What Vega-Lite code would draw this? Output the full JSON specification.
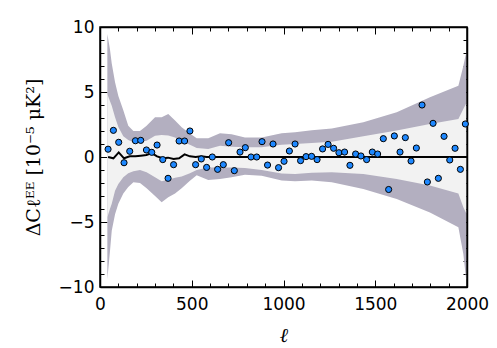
{
  "$schema": "https://vega.github.io/schema/vega-lite/v6.json",
  "autosize": {"type": "none"},
  "padding": {"left": 100, "top": 27, "right": 30, "bottom": 61},
  "width": 367,
  "height": 260,
  "background": "white",
  "config": {
    "view": {"stroke": "black", "strokeWidth": 1.5},
    "axis": {"zindex": 1}
  },
  "datasets": {
    "band": [
      {"l": 40, "lo2": -9.4, "lo1": -4.64, "hi1": 4.85, "hi2": 9.46},
      {"l": 54, "lo2": -7.3, "lo1": -4.0, "hi1": 4.3, "hi2": 8.3},
      {"l": 64, "lo2": -5.67, "lo1": -3.6, "hi1": 3.95, "hi2": 7.2},
      {"l": 82, "lo2": -4.4, "lo1": -2.6, "hi1": 3.05, "hi2": 5.75},
      {"l": 100, "lo2": -3.6, "lo1": -2.08, "hi1": 2.3, "hi2": 4.7},
      {"l": 127, "lo2": -2.8, "lo1": -1.56, "hi1": 1.6, "hi2": 3.6},
      {"l": 154, "lo2": -2.3, "lo1": -1.25, "hi1": 1.3, "hi2": 2.4},
      {"l": 182, "lo2": -1.95, "lo1": -1.1, "hi1": 1.13, "hi2": 2.0},
      {"l": 218, "lo2": -2.0, "lo1": -1.0, "hi1": 1.13, "hi2": 2.0},
      {"l": 254, "lo2": -2.4, "lo1": -1.18, "hi1": 1.25, "hi2": 2.4},
      {"l": 300, "lo2": -3.0, "lo1": -1.56, "hi1": 1.64, "hi2": 3.05},
      {"l": 336, "lo2": -3.49, "lo1": -1.87, "hi1": 1.7, "hi2": 3.05},
      {"l": 372, "lo2": -3.1, "lo1": -1.75, "hi1": 1.65, "hi2": 3.3},
      {"l": 409, "lo2": -2.8, "lo1": -1.6, "hi1": 1.5, "hi2": 2.8},
      {"l": 445, "lo2": -2.4, "lo1": -1.5, "hi1": 1.2, "hi2": 2.28},
      {"l": 490, "lo2": -1.82, "lo1": -1.25, "hi1": 0.95, "hi2": 1.8},
      {"l": 527, "lo2": -1.4, "lo1": -1.0, "hi1": 0.7, "hi2": 1.45},
      {"l": 590, "lo2": -1.77, "lo1": -0.8, "hi1": 0.62, "hi2": 1.44},
      {"l": 654, "lo2": -1.7, "lo1": -0.8, "hi1": 0.87, "hi2": 1.82},
      {"l": 717, "lo2": -1.56, "lo1": -0.8, "hi1": 0.78, "hi2": 1.75},
      {"l": 790, "lo2": -1.36, "lo1": -0.85, "hi1": 0.75, "hi2": 1.5},
      {"l": 881, "lo2": -1.44, "lo1": -1.0, "hi1": 0.75, "hi2": 1.5},
      {"l": 990, "lo2": -1.8, "lo1": -1.26, "hi1": 0.95, "hi2": 1.82},
      {"l": 1063, "lo2": -1.87, "lo1": -1.3, "hi1": 1.0, "hi2": 1.9},
      {"l": 1154, "lo2": -1.8, "lo1": -1.22, "hi1": 1.08, "hi2": 2.05},
      {"l": 1263, "lo2": -1.95, "lo1": -1.18, "hi1": 1.18, "hi2": 2.2},
      {"l": 1435, "lo2": -2.46, "lo1": -1.3, "hi1": 1.59, "hi2": 2.67},
      {"l": 1617, "lo2": -3.23, "lo1": -1.7, "hi1": 2.03, "hi2": 3.44},
      {"l": 1798, "lo2": -4.26, "lo1": -2.2, "hi1": 2.54, "hi2": 4.59},
      {"l": 1953, "lo2": -5.41, "lo1": -2.8, "hi1": 2.92, "hi2": 5.49},
      {"l": 1980, "lo2": -7.46, "lo1": -3.87, "hi1": 3.7, "hi2": 7.0},
      {"l": 1995, "lo2": -9.4, "lo1": -4.3, "hi1": 4.1, "hi2": 8.0}
    ],
    "line": [
      {"l": 44, "m": 0.0}, {"l": 73, "m": -0.1}, {"l": 102, "m": 0.35}, {"l": 131, "m": -0.1},
      {"l": 162, "m": 0.05}, {"l": 193, "m": 0.05}, {"l": 222, "m": 0.1}, {"l": 253, "m": 0.15},
      {"l": 282, "m": 0.3}, {"l": 311, "m": 0.05}, {"l": 342, "m": -0.1}, {"l": 371, "m": -0.05},
      {"l": 401, "m": -0.15}, {"l": 431, "m": -0.1}, {"l": 461, "m": 0.2}, {"l": 490, "m": 0.05},
      {"l": 521, "m": 0.0}, {"l": 552, "m": 0.05}, {"l": 581, "m": 0.0}, {"l": 1000, "m": 0.0},
      {"l": 1500, "m": 0.0}, {"l": 2000, "m": 0.0}
    ],
    "pts": [
      {"l": 44, "d": 0.6}, {"l": 73, "d": 2.05}, {"l": 102, "d": 1.13}, {"l": 131, "d": -0.44},
      {"l": 162, "d": 0.44}, {"l": 193, "d": 1.25}, {"l": 222, "d": 1.28}, {"l": 253, "d": 0.54},
      {"l": 282, "d": 0.36}, {"l": 311, "d": 0.92}, {"l": 342, "d": -0.2}, {"l": 371, "d": -1.64},
      {"l": 401, "d": -0.59}, {"l": 431, "d": 1.23}, {"l": 461, "d": 1.23}, {"l": 490, "d": 2.0},
      {"l": 521, "d": -0.59}, {"l": 552, "d": -0.15}, {"l": 581, "d": -0.8}, {"l": 612, "d": 0.0},
      {"l": 641, "d": -0.95}, {"l": 672, "d": -0.59}, {"l": 701, "d": 1.1}, {"l": 732, "d": -1.05},
      {"l": 763, "d": 0.38}, {"l": 792, "d": 0.72}, {"l": 823, "d": 0.0}, {"l": 854, "d": 0.0},
      {"l": 883, "d": 1.18}, {"l": 913, "d": -0.62}, {"l": 943, "d": 1.0}, {"l": 973, "d": -0.82},
      {"l": 1003, "d": -0.33}, {"l": 1032, "d": 0.46}, {"l": 1063, "d": 1.0}, {"l": 1093, "d": -0.28},
      {"l": 1123, "d": 0.03}, {"l": 1153, "d": 0.05}, {"l": 1183, "d": -0.2}, {"l": 1213, "d": 0.62},
      {"l": 1243, "d": 0.97}, {"l": 1273, "d": 0.67}, {"l": 1302, "d": 0.33}, {"l": 1333, "d": 0.38},
      {"l": 1362, "d": -0.64}, {"l": 1393, "d": 0.23}, {"l": 1422, "d": 0.08}, {"l": 1453, "d": -0.2},
      {"l": 1484, "d": 0.38}, {"l": 1513, "d": 0.23}, {"l": 1544, "d": 1.41}, {"l": 1573, "d": -2.5},
      {"l": 1604, "d": 1.62}, {"l": 1635, "d": 0.38}, {"l": 1664, "d": 1.49}, {"l": 1695, "d": -0.31},
      {"l": 1724, "d": 0.69}, {"l": 1755, "d": 4.0}, {"l": 1784, "d": -1.92}, {"l": 1815, "d": 2.59},
      {"l": 1844, "d": -1.64}, {"l": 1875, "d": 1.59}, {"l": 1906, "d": -0.23}, {"l": 1935, "d": 0.67},
      {"l": 1964, "d": -0.95}, {"l": 1991, "d": 2.54}
    ]
  },
  "layer": [
    {
      "data": {"name": "band"},
      "mark": {"type": "area", "color": "#b3afc0", "opacity": 1},
      "encoding": {
        "x": {
          "field": "l", "type": "quantitative",
          "scale": {"domain": [0, 2000], "nice": false},
          "axis": {
            "orient": "bottom", "values": [0,100,200,300,400,500,600,700,800,900,1000,1100,1200,1300,1400,1500,1600,1700,1800,1900,2000],
            "format": "d",
            "labelExpr": "datum.value % 500 === 0 ? datum.label : ''",
            "tickSize": {"condition": {"test": "datum.value % 500 === 0", "value": -7}, "value": -4},
            "tickColor": "black", "tickWidth": 1, "domainColor": "black", "domainWidth": 1.5,
            "grid": false, "labelFont": "DejaVu Sans", "labelFontSize": 17, "labelColor": "black",
            "labelPadding": 16, "labelFlush": false, "labelOverlap": false,
            "title": "ℓ", "titleFont": "DejaVu Serif", "titleFontStyle": "italic", "titleFontWeight": "normal",
            "titleFontSize": 20, "titleColor": "black", "titlePadding": 10
          }
        },
        "y": {
          "field": "lo2", "type": "quantitative",
          "scale": {"domain": [-10, 10], "nice": false},
          "axis": {
            "orient": "left", "values": [-10,-9,-8,-7,-6,-5,-4,-3,-2,-1,0,1,2,3,4,5,6,7,8,9,10],
            "format": "d",
            "labelExpr": "datum.value % 5 === 0 ? datum.label : ''",
            "tickSize": {"condition": {"test": "datum.value % 5 === 0", "value": -7}, "value": -4},
            "tickColor": "black", "tickWidth": 1, "domainColor": "black", "domainWidth": 1.5,
            "grid": false, "labelFont": "DejaVu Sans", "labelFontSize": 17, "labelColor": "black",
            "labelPadding": 13, "labelFlush": false, "labelOverlap": false,
            "title": "ΔCℓᴱᴱ [10⁻⁵  μK²]", "titleFont": "DejaVu Serif", "titleFontWeight": "normal",
            "titleFontSize": 19, "titleColor": "black", "titleX": -67, "titleY": 130,
            "titleAlign": "center", "titleBaseline": "middle", "titleAngle": -90
          }
        },
        "y2": {"field": "hi2"}
      }
    },
    {
      "data": {"name": "band"},
      "mark": {"type": "area", "color": "#f2f2f2", "opacity": 1},
      "encoding": {
        "x": {
          "field": "l", "type": "quantitative",
          "axis": {
            "orient": "top", "values": [0,100,200,300,400,500,600,700,800,900,1000,1100,1200,1300,1400,1500,1600,1700,1800,1900,2000],
            "labels": false, "title": null, "grid": false,
            "tickSize": {"condition": {"test": "datum.value % 500 === 0", "value": -7}, "value": -4},
            "tickColor": "black", "tickWidth": 1, "domainColor": "black", "domainWidth": 1.5
          }
        },
        "y": {
          "field": "lo1", "type": "quantitative",
          "axis": {
            "orient": "right", "values": [-10,-9,-8,-7,-6,-5,-4,-3,-2,-1,0,1,2,3,4,5,6,7,8,9,10],
            "labels": false, "title": null, "grid": false,
            "tickSize": {"condition": {"test": "datum.value % 5 === 0", "value": -7}, "value": -4},
            "tickColor": "black", "tickWidth": 1, "domainColor": "black", "domainWidth": 1.5
          }
        },
        "y2": {"field": "hi1"}
      }
    },
    {
      "data": {"name": "line"},
      "mark": {"type": "line", "color": "black", "strokeWidth": 2},
      "encoding": {
        "x": {"field": "l", "type": "quantitative", "axis": null},
        "y": {"field": "m", "type": "quantitative", "axis": null}
      }
    },
    {
      "data": {"name": "pts"},
      "mark": {"type": "point", "filled": true, "fill": "#1e88ff", "stroke": "black", "strokeWidth": 1, "size": 38, "opacity": 1, "fillOpacity": 1},
      "encoding": {
        "x": {"field": "l", "type": "quantitative", "axis": null},
        "y": {"field": "d", "type": "quantitative", "axis": null}
      }
    }
  ]
}
